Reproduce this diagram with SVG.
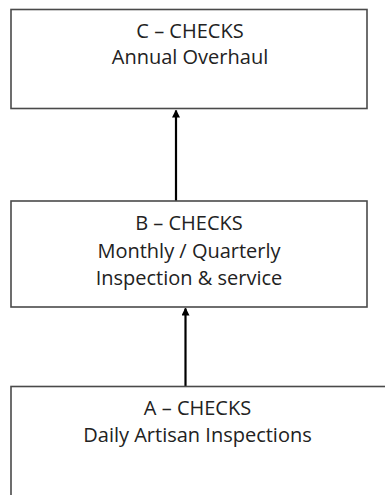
<svg xmlns="http://www.w3.org/2000/svg" width="385" height="495" viewBox="0 0 385 495">
  <style>
    .box { fill: #ffffff; stroke: #4a4a4a; stroke-width: 1.6; }
    .lbl { font-family: "Open Sans", "Noto Sans", "Liberation Sans", sans-serif; font-size: 20px; fill: #222222; text-anchor: middle; }
    .conn { stroke: #000000; stroke-width: 2.2; fill: none; marker-end: url(#arrow); }
  </style>
  <defs>
    <marker id="arrow" markerUnits="userSpaceOnUse" markerWidth="8" markerHeight="8" refX="7" refY="4" orient="auto">
      <path d="M0,0 L8,4 L0,8 Z" fill="#000000"/>
    </marker>
  </defs>
  <rect width="385" height="495" fill="#ffffff"/>

  <g id="connectors">
    <line class="conn" x1="176" y1="201" x2="176" y2="110.5"/>
    <line class="conn" x1="185.5" y1="386" x2="185.5" y2="308.5"/>
  </g>

  <g id="c-checks">
    <rect class="box" x="11" y="9.5" width="356" height="99"/>
    <text class="lbl" x="190" y="37.5">C – CHECKS</text>
    <text class="lbl" x="190" y="63.5">Annual Overhaul</text>
  </g>

  <g id="b-checks">
    <rect class="box" x="11" y="201" width="356" height="106"/>
    <text class="lbl" x="189" y="230">B – CHECKS</text>
    <text class="lbl" x="189" y="258">Monthly / Quarterly</text>
    <text class="lbl" x="189" y="285">Inspection &amp; service</text>
  </g>

  <g id="a-checks">
    <rect class="box" x="11" y="386.5" width="380" height="120"/>
    <text class="lbl" x="197.5" y="415">A – CHECKS</text>
    <text class="lbl" x="197.5" y="442">Daily Artisan Inspections</text>
  </g>
</svg>
